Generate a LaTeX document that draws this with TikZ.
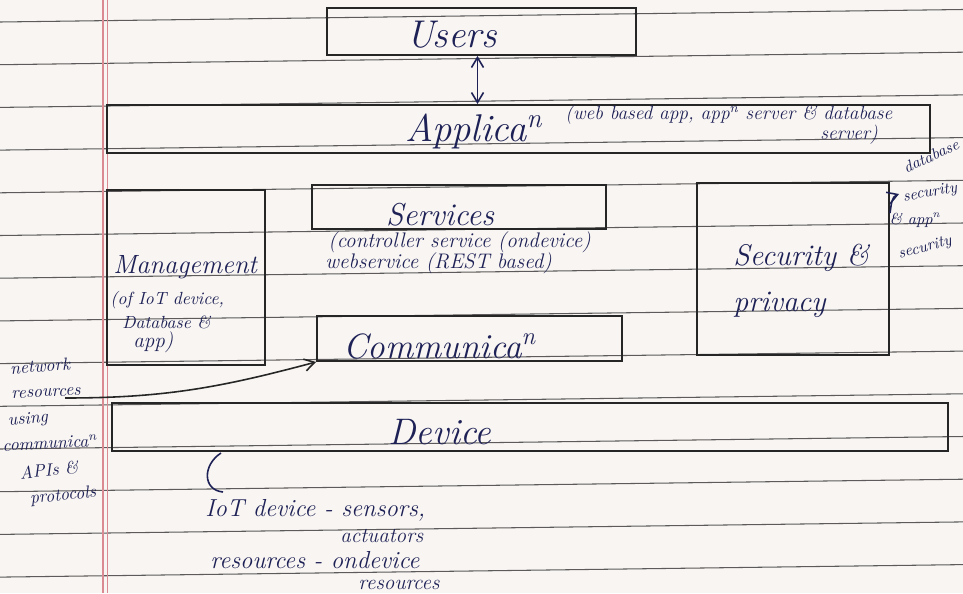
\documentclass[tikz,border=0pt]{standalone}
\usetikzlibrary{arrows.meta}
\definecolor{ink}{HTML}{1E2156}
\definecolor{paper}{HTML}{F8F5F2}
\definecolor{ruling}{HTML}{5C5A5A}
\definecolor{marginred}{HTML}{D98A92}
\tikzset{
  layer/.style={draw=black!85, line width=1.1pt, inner sep=0pt},
  ink/.style={text=ink, font=\itshape, inner sep=0pt},
  pen/.style={draw=ink, line width=0.9pt, -{Straight Barb[length=2mm,width=2.4mm]}},
  ruled/.style={draw=ruling, line width=0.6pt}
}
\newcommand{\fs}[1]{\fontsize{#1}{#1}\selectfont}
\begin{document}
\begin{tikzpicture}
\fill[paper] (0,0) rectangle (19.26,-11.86);
\useasboundingbox (0,0) rectangle (19.26,-11.86);
% notebook page
\foreach \k in {0,...,13}
  \draw[ruled] (0,{-0.44-0.854*\k}) -- (19.26,{-0.19-0.854*\k});
\draw[marginred, line width=0.6pt] (2.06,0) -- (2.06,-11.86);
\draw[marginred, line width=0.6pt] (2.15,0) -- (2.15,-11.86);

% layers
\node[layer, minimum width=6.18cm, minimum height=0.94cm] (users) at (9.63,-0.63) {};
\node[layer, minimum width=16.46cm, minimum height=0.96cm] (app) at (10.37,-2.58) {};
\node[layer, minimum width=5.88cm, minimum height=0.88cm] (serv) at (9.18,-4.14) {};
\node[layer, minimum width=3.16cm, minimum height=3.5cm] (mgmt) at (3.72,-5.55) {};
\node[layer, minimum width=6.1cm, minimum height=0.9cm] (comm) at (9.39,-6.77) {};
\node[layer, minimum width=3.84cm, minimum height=3.44cm] (sec) at (15.86,-5.38) {};
\node[layer, minimum width=16.72cm, minimum height=0.96cm] (dev) at (10.6,-8.54) {};

% labels
\node[ink, font=\itshape\fs{22}] (usersl) at (9.04,-0.7) {Users};
\node[ink, font=\itshape\fs{22}, anchor=west] (appl) at (8.1,-2.62) {Applica\textsuperscript{n}};
\node[ink, font=\itshape\fs{11}, anchor=west] (appd) at (11.3,-2.3) {(web based app, app\textsuperscript{n} server \& database};
\node[ink, font=\itshape\fs{11}, anchor=west] (appe) at (16.4,-2.7) {server)};
\node[ink, font=\itshape\fs{18}] (servl) at (8.8,-4.3) {Services};
\node[ink, font=\itshape\fs{12}, anchor=west] (servd) at (6.56,-4.84) {(controller service (ondevice)};
\node[ink, font=\itshape\fs{12}, anchor=west] (serve) at (6.5,-5.26) {webservice (REST based)};
\node[ink, font=\itshape\fs{15}, anchor=west] (mgmtl) at (2.26,-5.34) {Management};
\node[ink, font=\itshape\fs{10}, anchor=west] (mgmtd) at (2.2,-6.0) {(of IoT device,};
\node[ink, font=\itshape\fs{10}, anchor=west] (mgmte) at (2.44,-6.44) {Database \&};
\node[ink, font=\itshape\fs{12}, anchor=west] (mgmtf) at (2.66,-6.84) {app)};
\node[ink, font=\itshape\fs{20}, anchor=west] (comml) at (6.86,-6.92) {Communica\textsuperscript{n}};
\node[ink, font=\itshape\fs{17}, anchor=west] (secl) at (14.66,-5.16) {Security \&};
\node[ink, font=\itshape\fs{17}, anchor=west] (secm) at (14.66,-6.1) {privacy};
\node[ink, font=\itshape\fs{21}] (devl) at (8.8,-8.64) {Device};

% notes under the device layer
\draw[draw=ink, line width=0.9pt] (4.42,-9.06) .. controls (4.05,-9.3) and (4.05,-9.8) .. (4.46,-9.84);
\node[ink, font=\itshape\fs{14}, anchor=west] (devd) at (4.1,-10.2) {IoT device - sensors,};
\node[ink, font=\itshape\fs{12}, anchor=west] (deve) at (6.8,-10.72) {actuators};
\node[ink, font=\itshape\fs{14}, anchor=west] (devf) at (4.2,-11.2) {resources - ondevice};
\node[ink, font=\itshape\fs{12}, anchor=west] (devg) at (7.16,-11.7) {resources};

% side notes
\node[ink, font=\itshape\fs{10}, rotate=4] (net1) at (0.8,-7.32) {network};
\node[ink, font=\itshape\fs{10}, rotate=3] (net2) at (0.92,-7.86) {resources};
\node[ink, font=\itshape\fs{10}, rotate=5] (net3) at (0.56,-8.4) {using};
\node[ink, font=\itshape\fs{10}, rotate=3] (net4) at (1.0,-8.86) {communica\textsuperscript{n}};
\node[ink, font=\itshape\fs{10}, rotate=6] (net5) at (0.98,-9.4) {APIs \&};
\node[ink, font=\itshape\fs{10}, rotate=6] (net6) at (1.26,-9.92) {protocols};
\node[ink, font=\itshape\fs{9}, rotate=25] (db1) at (18.62,-3.12) {database};
\node[ink, font=\itshape\fs{9}, rotate=10] (db2) at (18.6,-3.86) {security};
\node[ink, font=\itshape\fs{9}] (db3) at (18.3,-4.4) {\& app\textsuperscript{n}};
\node[ink, font=\itshape\fs{9}, rotate=15] (db4) at (18.5,-4.96) {security};
\coordinate (netsrc) at (1.3,-7.96);
\coordinate (dbtip) at (17.98,-3.88);

% arrows
\draw[pen, {Straight Barb[length=2mm,width=2.4mm]}-{Straight Barb[length=2mm,width=2.4mm]}]
  ([xshift=-0.08cm]users.south) -- ([xshift=-0.08cm]users.south |- app.north);
\draw[pen, draw=black!85] (netsrc) to[out=0, in=195] (comm.south west);
\draw[pen] ([yshift=-0.62cm]sec.north east) to[out=80, in=200] (dbtip);
\end{tikzpicture}
\end{document}
